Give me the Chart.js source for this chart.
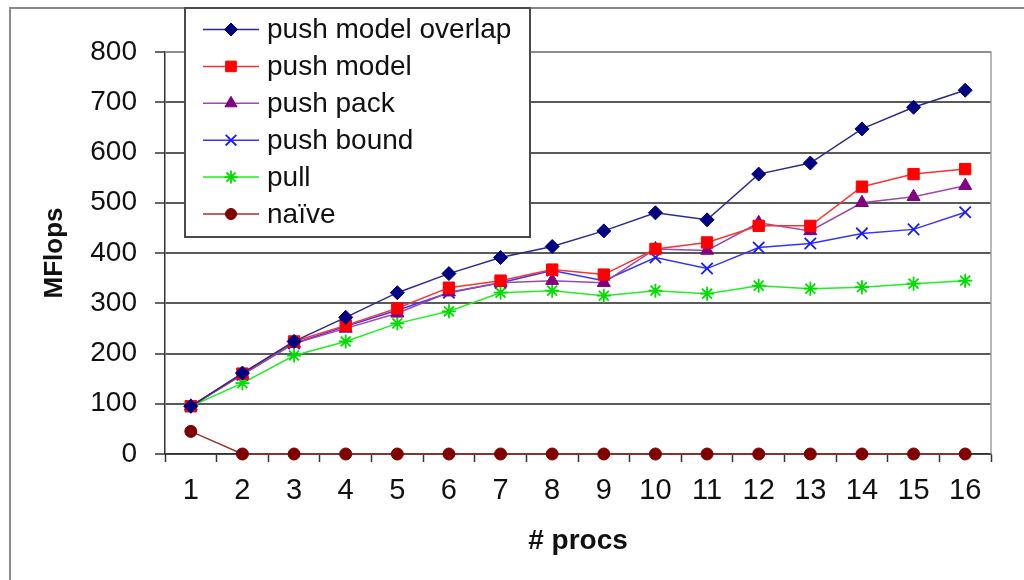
<!DOCTYPE html>
<html lang="en">
<head>
  <meta charset="UTF-8">
  <title>MFlops vs # procs</title>
  <script src="https://cdn.jsdelivr.net/npm/chart.js"></script>
  <style>
    html, body { margin: 0; padding: 0; background: #fff; }
    canvas { display: block; }
  </style>
</head>
<body>
  <canvas id="chart" width="1024" height="580"></canvas>

  <script>
    // data
    const procs = ['1', '2', '3', '4', '5', '6', '7', '8', '9', '10', '11', '12', '13', '14', '15', '16'];
    const pushModelOverlap = [95, 161, 224, 272, 321, 359, 391, 413, 444, 480, 466, 557, 579, 647, 690, 724];
    const pushModel = [95, 160, 224, 256, 290, 331, 345, 367, 357, 408, 421, 454, 454, 532, 557, 567];
    const pushPack = [95, 158, 220, 250, 280, 322, 341, 345, 341, 408, 405, 460, 444, 500, 512, 534];
    const pushBound = [95, 158, 220, 254, 286, 321, 341, 365, 345, 391, 369, 411, 419, 439, 447, 481];
    const pull = [95, 141, 196, 224, 260, 284, 321, 325, 315, 325, 319, 335, 329, 332, 339, 345];
    const naive = [45, 0, 0, 0, 0, 0, 0, 0, 0, 0, 0, 0, 0, 0, 0, 0];
    const seriesNames = ['push model overlap', 'push model', 'push pack', 'push bound', 'pull', 'na\u00efve'];
    const yTickValues = [0, 100, 200, 300, 400, 500, 600, 700, 800];

    const FONT = "'Liberation Sans', Arial, Helvetica, sans-serif";

    function series(label, data, line, fill, style, radius, bw) {
      return {
        label: label,
        data: data,
        borderColor: line,
        borderWidth: 1.5,
        backgroundColor: fill,
        pointStyle: style,
        pointRadius: radius,
        pointHoverRadius: radius,
        pointBackgroundColor: fill,
        pointBorderColor: fill,
        pointBorderWidth: bw,
        tension: 0,
        clip: false
      };
    }

    // outer frame + gray plot border
    const framePlugin = {
      id: 'frame',
      beforeDraw(chart) {
        const ctx = chart.ctx;
        ctx.save();
        ctx.fillStyle = '#fff';
        ctx.fillRect(0, 0, chart.width, chart.height);
        ctx.strokeStyle = '#8a8a8a';
        ctx.lineWidth = 2;
        ctx.strokeRect(10, 8, 1200, 800);
        ctx.restore();
      },
      beforeDatasetsDraw(chart) {
        const a = chart.chartArea;
        const ctx = chart.ctx;
        ctx.save();
        ctx.strokeStyle = '#a0a0a0';
        ctx.lineWidth = 1.5;
        ctx.beginPath();
        ctx.moveTo(a.left, a.top);
        ctx.lineTo(a.right, a.top);
        ctx.lineTo(a.right, a.bottom);
        ctx.stroke();
        ctx.restore();
      }
    };

    // boxed legend that sits over the top-left of the plot
    const boxLegend = {
      id: 'boxLegend',
      afterDraw(chart) {
        const ctx = chart.ctx;
        const left = 185, top = 8, right = 530, bottom = 237;
        ctx.save();
        ctx.fillStyle = '#fff';
        ctx.fillRect(left, top, right - left, bottom - top);
        ctx.strokeStyle = '#4a4a4a';
        ctx.lineWidth = 2;
        ctx.strokeRect(left, top, right - left, bottom - top);

        chart.data.datasets.forEach((ds, i) => {
          const y = 29.5 + i * 36.9;
          ctx.strokeStyle = ds.borderColor;
          ctx.lineWidth = 1.5;
          ctx.beginPath();
          ctx.moveTo(203, y);
          ctx.lineTo(259, y);
          ctx.stroke();

          ctx.fillStyle = ds.pointBackgroundColor;
          ctx.strokeStyle = ds.pointBorderColor;
          ctx.lineWidth = ds.pointBorderWidth;
          Chart.helpers.drawPoint(ctx, {
            pointStyle: ds.pointStyle,
            radius: ds.pointRadius - 0.5,
            borderWidth: ds.pointBorderWidth,
            rotation: 0
          }, 231, y);

          ctx.fillStyle = '#111';
          ctx.font = '28px ' + FONT;
          ctx.textAlign = 'left';
          ctx.textBaseline = 'middle';
          ctx.fillText(ds.label, 267, y + 1);
        });
        ctx.restore();
      }
    };

    const ctx = document.getElementById('chart').getContext('2d');
    const chart = new Chart(ctx, {
      type: 'line',
      data: {
        labels: procs,
        datasets: [
          series(seriesNames[0], pushModelOverlap, '#2b2b8c', '#000080', 'rectRot', 7, 1),
          series(seriesNames[1], pushModel, '#ff3030', '#ff0000', 'rect', 8, 1),
          series(seriesNames[2], pushPack, '#9a4aa8', '#800080', 'triangle', 7.5, 1),
          series(seriesNames[3], pushBound, '#3333ff', '#1a1aff', 'crossRot', 8, 1.8),
          series(seriesNames[4], pull, '#22ee22', '#00dd00', 'star', 7, 1.8),
          series(seriesNames[5], naive, '#993333', '#800000', 'circle', 6, 1)
        ]
      },
      options: {
        responsive: false,
        animation: false,
        events: [],
        layout: { padding: { left: 0, top: 52, right: 33, bottom: 0 } },
        plugins: {
          legend: { display: false },
          tooltip: { enabled: false }
        },
        scales: {
          x: {
            offset: true,
            afterFit(scale) { scale.height = 126; },
            grid: {
              offset: true,
              drawOnChartArea: false,
              drawTicks: true,
              tickLength: 8,
              tickColor: '#333',
              tickWidth: 1.5
            },
            border: { display: true, color: '#333', width: 1.5 },
            ticks: {
              color: '#111',
              font: { family: FONT, size: 29 },
              padding: 12,
              maxRotation: 0,
              autoSkip: false
            },
            title: {
              display: true,
              text: '# procs',
              color: '#111',
              font: { family: FONT, size: 28, weight: 'bold' },
              padding: { top: 0, bottom: 22 }
            }
          },
          y: {
            min: 0,
            max: 800,
            afterFit(scale) { scale.width = 165; },
            afterBuildTicks(scale) { scale.ticks = yTickValues.map(v => ({ value: v })); },
            grid: {
              color: '#5a5a5a',
              lineWidth: 2,
              drawTicks: true,
              tickLength: 10,
              tickColor: '#333',
              tickWidth: 1.5
            },
            border: { display: true, color: '#333', width: 1.5 },
            ticks: {
              color: '#111',
              font: { family: FONT, size: 28 },
              padding: 18
            },
            title: {
              display: true,
              text: 'MFlops',
              color: '#111',
              font: { family: FONT, size: 26, weight: 'bold' },
              padding: { top: 39, bottom: 0 }
            }
          }
        }
      },
      plugins: [framePlugin, boxLegend]
    });
  </script>
</body>
</html>
